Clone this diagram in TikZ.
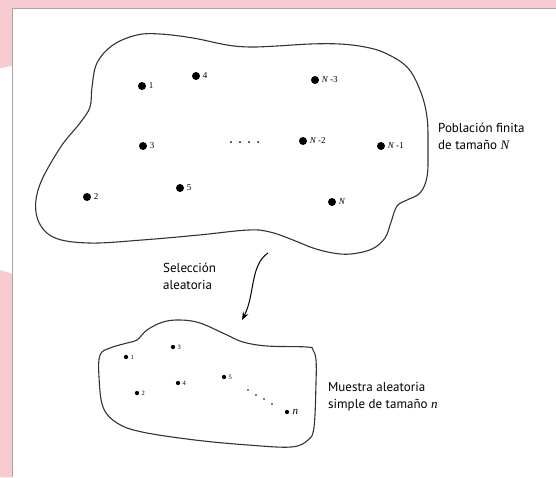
\documentclass[tikz,border=0pt]{standalone}
\usepackage{fontspec}
\setmainfont{PT Sans}
\newfontfamily\numfont{Liberation Serif}
\usetikzlibrary{positioning,arrows.meta}
\definecolor{rosa}{HTML}{F7CBCF}
\definecolor{marco}{HTML}{A6A6A6}
\definecolor{trazo}{HTML}{333333}

\begin{document}
\begin{tikzpicture}[x=1pt,y=-1pt,
    gdot/.style={circle,fill=black,inner sep=0pt,minimum width=7.5pt,minimum height=8pt},
    pdot/.style={circle,fill=black,inner sep=0pt,minimum size=4.3pt},
    glab/.style={font=\numfont\fontsize{9}{9}\selectfont,inner sep=0pt},
    plab/.style={font=\numfont\fontsize{6.5}{7}\selectfont,inner sep=0pt},
    rotulo/.style={font=\fontsize{13}{17}\selectfont,align=left,inner sep=0pt,anchor=north west},
    contorno/.style={draw=trazo,line width=1.1pt,smooth cycle,tension=0.6}]

    \useasboundingbox (0,0) rectangle (556,477);
    % marco rosa
    \fill[rosa] (0,0) rectangle (556,8.5);
    \fill[rosa] (0,0) -- (12.5,0) -- (12.5,66) -- (0,68) -- cycle;
    \fill[rosa] (0,270) -- (12.5,274) -- (12.5,477) -- (0,477) -- cycle;
    \draw[marco,line width=1pt] (12.5,477) -- (12.5,8.5) -- (556,8.5);

    % poblacion
    \draw[contorno] plot coordinates {(97,63) (113,45) (137,35) (160,34) (193,38) (227,45)
        (250,47) (277,46) (310,44) (340,44) (365,47) (385,53) (407,67) (420,90) (427,117)
        (428,150) (427,177) (420,193) (407,200) (397,206) (391,222) (385,238) (372,249)
        (351,254) (333,253) (313,248) (293,240) (270,232) (248,230) (199,235) (142,240)
        (89,243) (53,237) (37,217) (39,187) (60,148) (80,123) (90,107) (92,87)};

    \node[gdot] (g1) at (142,86) {};
    \node[gdot] (g4) at (196,76) {};
    \node[gdot] (gN3) at (315,80) {};
    \node[gdot] (g3) at (143,146) {};
    \node[gdot] (gN2) at (303,141) {};
    \node[gdot] (gN1) at (381,146) {};
    \node[gdot] (g2) at (87,197) {};
    \node[gdot] (g5) at (180,188) {};
    \node[gdot] (gN) at (332,202) {};
    \node[glab,right=2.5pt of g1] {1};
    \node[glab,right=2.5pt of g4] {4};
    \node[glab,right=2.5pt of gN3] {{\itshape N} -3};
    \node[glab,right=2.5pt of g3] {3};
    \node[glab,right=2.5pt of gN2] {{\itshape N} -2};
    \node[glab,right=2.5pt of gN1] {{\itshape N} -1};
    \node[glab,right=2.5pt of g2] {2};
    \node[glab,right=2.5pt of g5] {5};
    \node[glab,right=2.5pt of gN] {{\itshape N}};
    \fill (231,142) circle (1pt);
    \fill (240,142) circle (1pt);
    \fill (249,142) circle (1pt);
    \fill (258,142) circle (1pt);

    \node[rotulo] (pob) at (438,123) {Población finita\\de tamaño {\numfont\itshape N}};

    % seleccion
    \coordinate (sa) at (268,253);
    \coordinate (sb) at (242,320);
    \draw[-{Stealth[length=8pt,width=6pt]},line width=1pt] (sa) .. controls (250,265) and (255,295) .. (sb);
    \node[rotulo] (sel) at (163,262.5) {Selección\\aleatoria};

    % muestra
    \draw[contorno] plot coordinates {(100,355) (110,348) (127,343) (137,340) (147,330)
        (163,322) (180,320) (200,323) (227,335) (243,342) (267,346) (307,347) (313,350)
        (316,360) (316,383) (314,427) (308,440) (291,447) (248,445) (195,440) (142,432)
        (117,423) (103,407) (99,377)};

    \node[pdot] (m1) at (126,357) {};
    \node[pdot] (m3) at (173,347) {};
    \node[pdot] (m4) at (178,383) {};
    \node[pdot] (m5) at (224,377) {};
    \node[pdot] (m2) at (137,393) {};
    \node[pdot] (mn) at (287,412) {};
    \node[plab,right=2pt of m1] {1};
    \node[plab,right=2pt of m3] {3};
    \node[plab,right=2pt of m4] {4};
    \node[plab,right=2pt of m5] {5};
    \node[plab,right=2pt of m2] {2};
    \node[font=\numfont\itshape\fontsize{11}{11}\selectfont,inner sep=0pt,right=3pt of mn] {n};
    \fill (248,390) circle (0.9pt);
    \fill (256,395) circle (0.9pt);
    \fill (264,399) circle (0.9pt);
    \fill (272,404) circle (0.9pt);

    \node[rotulo] (mue) at (328,382.5) {Muestra aleatoria\\simple de tamaño {\numfont\itshape n}};
\end{tikzpicture}
\end{document}
